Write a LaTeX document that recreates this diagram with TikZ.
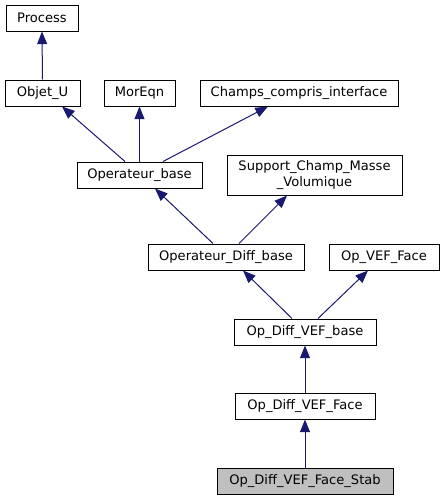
\documentclass[tikz,border=0pt]{standalone}
\usepackage{fontspec}
\setmainfont{DejaVu Sans}
\usetikzlibrary{arrows.meta,calc}
\definecolor{edgeblue}{HTML}{191970}
\definecolor{nodegray}{HTML}{BFBFBF}
\begin{document}
\begin{tikzpicture}[x=0.75pt,y=-0.75pt,
  box/.style={draw=black,line width=0.75pt,fill=white,inner sep=0pt,minimum height=19.5pt,font=\fontsize{9.8}{11}\selectfont,align=center},
  edge/.style={draw=edgeblue,line width=0.75pt,-{Triangle[length=9.5pt,width=7.5pt]}}]
\useasboundingbox (0,0) rectangle (444,500);
\node[box,minimum width=54pt] (process) at (42,18) {Process};
\node[box,minimum width=56.25pt] (objetu) at (42.5,93) {Objet\_U};
\node[box,minimum width=53.25pt] (moreqn) at (139.5,93) {MorEqn};
\node[box,minimum width=148.5pt] (champs) at (299,93) {Champs\_compris\_interface};
\node[box,minimum width=93.75pt] (opbase) at (139.5,175) {Operateur\_base};
\node[box,minimum width=131.25pt,minimum height=30pt,font=\fontsize{9.8}{12}\selectfont] (support) at (314.5,175) {Support\_Champ\_Masse\\\_Volumique};
\node[box,minimum width=117pt] (opdiff) at (226,257) {Operateur\_Diff\_base};
\node[box,minimum width=82.5pt] (opvefface) at (384,257) {Op\_VEF\_Face};
\node[box,minimum width=106.5pt] (opdiffvefbase) at (305,332) {Op\_Diff\_VEF\_base};
\node[box,minimum width=105pt] (opdiffvefface) at (305,406) {Op\_Diff\_VEF\_Face};
\node[box,minimum width=132pt,fill=nodegray] (stab) at (305,481) {Op\_Diff\_VEF\_Face\_Stab};
\draw[edge] (objetu.north) -- (process.south);
\draw[edge] ($(opbase.north)+(-14.5,0)$) -- ($(objetu.south)+(19.5,0)$);
\draw[edge] (opbase.north) -- (moreqn.south);
\draw[edge] ($(opbase.north)+(23.5,0)$) -- ($(champs.south)+(-31,0)$);
\draw[edge] ($(opdiff.north)+(-13,0)$) -- ($(opbase.south)+(15.5,0)$);
\draw[edge] ($(opdiff.north)+(13,0)$) -- ($(support.south)+(-27.5,0)$);
\draw[edge] ($(opdiffvefbase.north)+(-13,0)$) -- ($(opdiff.south)+(17,0)$);
\draw[edge] ($(opdiffvefbase.north)+(13,0)$) -- ($(opvefface.south)+(-16,0)$);
\draw[edge] (opdiffvefface.north) -- (opdiffvefbase.south);
\draw[edge] (stab.north) -- (opdiffvefface.south);
\end{tikzpicture}
\end{document}
